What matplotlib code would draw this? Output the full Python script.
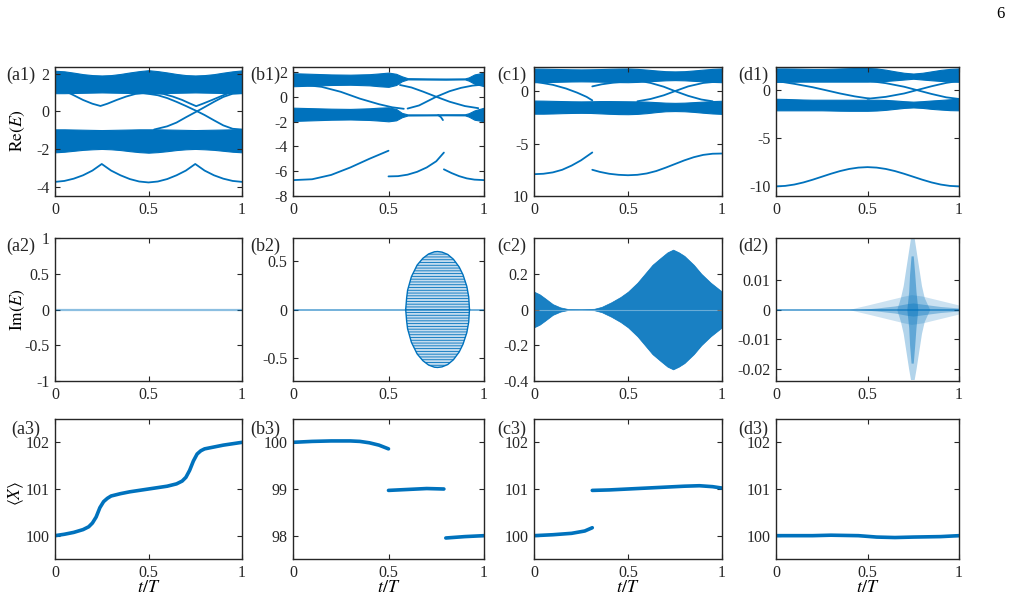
import numpy as np
import matplotlib.pyplot as plt

plt.rcParams['font.family'] = ['Liberation Serif', 'DejaVu Serif']
plt.rcParams['mathtext.fontset'] = 'stix'
plt.rcParams['axes.unicode_minus'] = False
plt.rcParams['hatch.linewidth'] = 0.6

BLUE = '#0072BD'
W, H = 1009, 607

# ---------------- data ----------------
t21 = np.linspace(0, 1, 21)

# (a1)
a1_up_top = [2.15, 2.12, 2.05, 1.97, 1.92, 1.90, 1.92, 1.98, 2.06, 2.13, 2.18,
             2.13, 2.06, 1.98, 1.92, 1.90, 1.92, 1.97, 2.05, 2.12, 2.17]
a1_up_bot = [0.96, 0.96, 0.97, 0.98, 0.99, 1.00, 0.99, 0.98, 0.97, 0.96, 0.96,
             0.96, 0.97, 0.98, 0.99, 1.00, 0.99, 0.98, 0.97, 0.96, 0.96]
a1_lo_top = [-0.96, -0.96, -0.97, -0.98, -0.99, -1.00, -0.99, -0.98, -0.97, -0.96, -0.96,
             -0.96, -0.97, -0.98, -0.99, -1.00, -0.99, -0.98, -0.97, -0.96, -0.96]
a1_lo_bot = [-2.18, -2.15, -2.10, -2.05, -2.02, -2.00, -2.02, -2.06, -2.12, -2.17, -2.20,
             -2.17, -2.12, -2.06, -2.02, -2.00, -2.02, -2.05, -2.10, -2.15, -2.18]
a1_low = [-3.75, -3.70, -3.58, -3.40, -3.15, -2.80, -3.15, -3.40, -3.60, -3.73, -3.78,
          -3.73, -3.60, -3.40, -3.15, -2.80, -3.15, -3.40, -3.58, -3.70, -3.75]
a1_va_t = [0.075, 0.10, 0.15, 0.20, 0.243, 0.28, 0.33, 0.38, 0.43, 0.47]
a1_va_y = [0.97, 0.85, 0.60, 0.40, 0.28, 0.40, 0.60, 0.78, 0.92, 0.97]
a1_vb_t = [0.53, 0.58, 0.63, 0.68, 0.72, 0.755, 0.79, 0.84, 0.90, 0.93]
a1_vb_y = [0.97, 0.92, 0.78, 0.60, 0.42, 0.27, 0.40, 0.60, 0.85, 0.97]
a1_dn_t = [0.47, 0.55, 0.60, 0.65, 0.70, 0.76, 0.80, 0.85, 0.90, 0.95, 1.0]
a1_dn_y = [0.97, 0.85, 0.70, 0.50, 0.28, 0.0, -0.20, -0.48, -0.75, -0.93, -0.97]
a1_upl_t = [0.53, 0.60, 0.65, 0.70, 0.76, 0.80, 0.85, 0.90, 0.95, 1.0]
a1_upl_y = [-0.97, -0.80, -0.60, -0.32, 0.0, 0.22, 0.50, 0.76, 0.93, 0.97]

# (b1)
b1_bt = [0, 0.1, 0.2, 0.3, 0.4, 0.45, 0.5, 0.54, 0.57, 0.6, 0.7, 0.8, 0.9, 0.92, 0.95, 1.0]
b1_up_top = [1.90, 1.85, 1.80, 1.78, 1.82, 1.88, 1.95, 1.85, 1.65, 1.50, 1.48, 1.47, 1.48, 1.56, 1.80, 1.95]
b1_up_bot = [0.85, 0.90, 0.95, 0.97, 0.92, 0.85, 0.80, 0.95, 1.25, 1.40, 1.39, 1.38, 1.40, 1.30, 1.05, 0.85]
b1_lo_top = [-0.88, -0.92, -0.96, -0.98, -0.93, -0.88, -0.85, -0.98, -1.30, -1.42, -1.42, -1.41, -1.41, -1.33, -1.10, -0.88]
b1_lo_bot = [-1.95, -1.90, -1.85, -1.83, -1.87, -1.92, -1.98, -1.90, -1.65, -1.51, -1.50, -1.49, -1.50, -1.60, -1.85, -1.98]
b1_hook_t = [0.76, 0.775, 0.785]
b1_hook_y = [-1.47, -1.65, -1.88]
b1_dn1_t = [0.08, 0.15, 0.25, 0.35, 0.45, 0.52, 0.58]
b1_dn1_y = [0.92, 0.80, 0.40, -0.15, -0.60, -0.85, -0.97]
b1_dn2_t = [0.56, 0.62, 0.68, 0.75, 0.82, 0.90, 0.97]
b1_dn2_y = [0.95, 0.75, 0.42, 0.0, -0.40, -0.75, -0.92]
b1_up2_t = [0.60, 0.66, 0.75, 0.82, 0.88, 0.94, 0.99]
b1_up2_y = [-0.95, -0.70, 0.0, 0.45, 0.72, 0.90, 0.97]
b1_s1_t = [0, 0.1, 0.2, 0.3, 0.4, 0.5]
b1_s1_y = [-6.72, -6.65, -6.30, -5.70, -5.00, -4.35]
b1_s2_t = [0.5, 0.55, 0.6, 0.65, 0.7, 0.75, 0.79]
b1_s2_y = [-6.42, -6.40, -6.28, -6.05, -5.70, -5.20, -4.50]
b1_s3_t = [0.79, 0.83, 0.87, 0.91, 0.95, 1.0]
b1_s3_y = [-5.85, -6.15, -6.40, -6.58, -6.68, -6.72]

# (c1)
c1_up_top = [2.15, 2.14, 2.12, 2.10, 2.08, 2.07, 2.08, 2.10, 2.13, 2.15, 2.16,
             2.12, 2.05, 1.97, 1.90, 1.88, 1.90, 1.97, 2.05, 2.12, 2.16]
c1_up_bot = [0.85, 0.86, 0.88, 0.90, 0.92, 0.93, 0.92, 0.90, 0.88, 0.86, 0.85,
             0.88, 0.93, 0.98, 1.03, 1.05, 1.03, 0.98, 0.93, 0.88, 0.85]
c1_lo_top = [-0.90, -0.91, -0.93, -0.95, -0.97, -0.98, -0.97, -0.95, -0.95, -0.96, -0.97,
             -0.98, -1.00, -1.05, -1.10, -1.12, -1.10, -1.05, -1.00, -0.95, -0.92]
c1_lo_bot = [-2.15, -2.15, -2.13, -2.10, -2.08, -2.07, -2.08, -2.12, -2.16, -2.19, -2.20,
             -2.17, -2.10, -2.00, -1.92, -1.90, -1.92, -1.98, -2.06, -2.13, -2.17]
c1_dn1_t = [0.02, 0.10, 0.17, 0.23, 0.28, 0.31]
c1_dn1_y = [0.85, 0.60, 0.25, -0.15, -0.55, -0.88]
c1_up1_t = [0.31, 0.36, 0.42, 0.48, 0.52]
c1_up1_y = [0.45, 0.65, 0.80, 0.90, 0.95]
c1_up2_t = [0.55, 0.62, 0.69, 0.75, 0.82, 0.90, 1.0]
c1_up2_y = [-0.97, -0.75, -0.40, 0.0, 0.45, 0.78, 0.95]
c1_dn2_t = [0.57, 0.62, 0.69, 0.75, 0.82, 0.89, 0.95]
c1_dn2_y = [0.95, 0.78, 0.42, 0.0, -0.45, -0.80, -0.97]
c1_s1_t = [0, 0.05, 0.1, 0.15, 0.2, 0.25, 0.31]
c1_s1_y = [-7.92, -7.88, -7.75, -7.50, -7.10, -6.60, -5.85]
c1_s2_t = [0.31, 0.35, 0.4, 0.45, 0.5, 0.55, 0.6, 0.65, 0.7, 0.75, 0.8, 0.85, 0.9, 0.95, 1.0]
c1_s2_y = [-7.50, -7.70, -7.88, -7.98, -8.02, -7.98, -7.85, -7.62, -7.30, -6.95,
           -6.60, -6.30, -6.08, -5.97, -5.95]

# (d1)
d1_up_top = [2.25, 2.25, 2.24, 2.22, 2.20, 2.20, 2.22, 2.25, 2.28, 2.30, 2.30,
             2.25, 2.12, 1.95, 1.80, 1.72, 1.80, 1.95, 2.10, 2.20, 2.25]
d1_up_bot = [0.85, 0.86, 0.87, 0.88, 0.88, 0.88, 0.88, 0.88, 0.88, 0.88, 0.88,
             0.90, 0.95, 1.02, 1.10, 1.18, 1.10, 1.02, 0.95, 0.90, 0.86]
d1_lo_top = [-0.90, -0.92, -0.95, -0.98, -1.00, -1.00, -1.00, -1.00, -1.00, -1.00, -1.00,
             -1.00, -1.02, -1.08, -1.15, -1.20, -1.15, -1.08, -1.02, -0.95, -0.90]
d1_lo_bot = [-2.10, -2.10, -2.10, -2.10, -2.10, -2.10, -2.12, -2.14, -2.15, -2.15, -2.15,
             -2.12, -2.05, -1.95, -1.85, -1.80, -1.85, -1.95, -2.02, -2.08, -2.10]
d1_dn1_t = [0.03, 0.10, 0.20, 0.27, 0.35, 0.43, 0.51]
d1_dn1_y = [0.86, 0.65, 0.30, 0.0, -0.35, -0.65, -0.88]
d1_up2_t = [0.50, 0.60, 0.70, 0.77, 0.85, 0.93, 1.0]
d1_up2_y = [-0.90, -0.70, -0.35, 0.0, 0.40, 0.75, 0.95]
d1_dn2_t = [0.52, 0.60, 0.70, 0.77, 0.85, 0.93, 1.0]
d1_dn2_y = [0.92, 0.72, 0.35, 0.0, -0.40, -0.75, -0.92]
d1_low = [-10.0, -9.95, -9.81, -9.59, -9.31, -9.0, -8.69, -8.41, -8.19, -8.05, -8.0,
          -8.05, -8.19, -8.41, -8.69, -9.0, -9.31, -9.59, -9.81, -9.95, -10.0]

# (b2) lens of complex eigenvalues
b2_t = [0.59, 0.595, 0.6, 0.62, 0.65, 0.68, 0.71, 0.74, 0.757, 0.78, 0.81, 0.84, 0.87, 0.89, 0.91, 0.92, 0.924]
b2_top = [0, 0.12, 0.20, 0.34, 0.46, 0.53, 0.575, 0.597, 0.60, 0.594, 0.57, 0.52, 0.44, 0.36, 0.24, 0.13, 0]
b2_bot = [0, -0.12, -0.20, -0.34, -0.46, -0.53, -0.575, -0.597, -0.60, -0.594, -0.57, -0.52, -0.44, -0.36, -0.24, -0.13, 0]

# (c2) envelope of the imaginary parts
c2_t = [0, 0.03, 0.06, 0.1, 0.14, 0.18, 0.25, 0.32, 0.36, 0.41, 0.46, 0.5, 0.55, 0.59,
        0.63, 0.675, 0.71, 0.74, 0.77, 0.8, 0.85, 0.89, 0.94, 1.0]
c2_top = [0.10, 0.085, 0.062, 0.03, 0.012, 0.003, 0.002, 0.004, 0.015, 0.04, 0.07, 0.10,
          0.15, 0.20, 0.25, 0.29, 0.32, 0.335, 0.32, 0.30, 0.25, 0.20, 0.15, 0.10]
c2_bot = [-0.10, -0.085, -0.062, -0.03, -0.012, -0.003, -0.002, -0.004, -0.015, -0.04, -0.07, -0.10,
          -0.15, -0.20, -0.25, -0.29, -0.32, -0.335, -0.32, -0.30, -0.25, -0.20, -0.15, -0.10]

# (d2) scattered imaginary parts: horizontal smear and vertical spike
d2_h_t = [0.40, 0.45, 0.5, 0.6, 0.7, 0.74, 0.8, 0.9, 1.0]
d2_h_top = [0, 0.0008, 0.0015, 0.0030, 0.0045, 0.005, 0.0045, 0.003, 0.0015]
d2_h_bot = [0, -0.0008, -0.0015, -0.0030, -0.0045, -0.005, -0.0045, -0.003, -0.0015]
d2_c_t = [0.45, 0.55, 0.65, 0.72, 0.75, 0.8, 0.9, 1.0]
d2_c_top = [0, 0.0005, 0.0012, 0.002, 0.0022, 0.0018, 0.001, 0.0005]
d2_c_bot = [0, -0.0005, -0.0012, -0.002, -0.0022, -0.0018, -0.001, -0.0005]
d2_v_y = [-0.0235, -0.020, -0.016, -0.012, -0.008, -0.004, 0, 0.004, 0.008, 0.012, 0.016, 0.020, 0.024]
d2_v_left = [0.735, 0.725, 0.715, 0.705, 0.695, 0.68, 0.66, 0.68, 0.695, 0.705, 0.715, 0.725, 0.735]
d2_v_right = [0.755, 0.765, 0.775, 0.785, 0.795, 0.81, 0.84, 0.81, 0.795, 0.785, 0.775, 0.765, 0.755]
d2_k_y = [-0.018, -0.012, -0.006, 0, 0.006, 0.012, 0.018]
d2_k_left = [0.738, 0.73, 0.725, 0.715, 0.725, 0.73, 0.738]
d2_k_right = [0.75, 0.758, 0.765, 0.775, 0.765, 0.758, 0.75]

# row 3: <X>
a3_t = [0, 0.05, 0.1, 0.15, 0.18, 0.2, 0.22, 0.24, 0.26, 0.28, 0.3, 0.35, 0.4, 0.45, 0.5,
        0.55, 0.6, 0.65, 0.68, 0.7, 0.72, 0.74, 0.76, 0.78, 0.8, 0.85, 0.9, 0.95, 1.0]
a3_x = [100.0, 100.03, 100.07, 100.13, 100.19, 100.27, 100.40, 100.60, 100.73, 100.80, 100.85,
        100.90, 100.94, 100.97, 101.0, 101.03, 101.06, 101.11, 101.17, 101.25, 101.40, 101.60,
        101.75, 101.82, 101.86, 101.90, 101.94, 101.97, 102.0]
b3_s1_t = [0, 0.1, 0.2, 0.3, 0.35, 0.4, 0.45, 0.5]
b3_s1_x = [100.0, 100.02, 100.03, 100.03, 100.02, 99.99, 99.94, 99.86]
b3_s2_t = [0.5, 0.6, 0.7, 0.79]
b3_s2_x = [98.97, 98.99, 99.01, 99.0]
b3_s3_t = [0.8, 0.9, 1.0]
b3_s3_x = [97.95, 97.98, 98.0]
c3_s1_t = [0, 0.1, 0.2, 0.27, 0.31]
c3_s1_x = [100.0, 100.02, 100.05, 100.10, 100.17]
c3_s2_t = [0.31, 0.4, 0.5, 0.6, 0.7, 0.8, 0.88, 0.95, 1.0]
c3_s2_x = [100.97, 100.98, 101.0, 101.02, 101.04, 101.06, 101.07, 101.05, 101.02]
d3_t = [0, 0.2, 0.3, 0.45, 0.55, 0.65, 0.75, 0.9, 1.0]
d3_x = [100.0, 100.0, 100.01, 100.0, 99.97, 99.96, 99.97, 99.98, 100.0]

# ---------------- layout ----------------
fig = plt.figure(figsize=(W / 100, H / 100), dpi=100)
cols = [(55, 242), (293, 484), (534, 722), (776, 959)]
rows = [(67, 196), (238, 381), (419, 559)]


def make_ax(r, c):
    (l, rr), (t, b) = cols[c], rows[r]
    ax = fig.add_axes([l / W, 1 - b / H, (rr - l) / W, (b - t) / H])
    ax.set_xlim(0, 1)
    ax.set_xticks([0, 0.5, 1])
    ax.set_xticklabels(['0', '0.5', '1'])
    ax.tick_params(direction='in', top=True, right=True, length=3.5, width=0.8,
                   labelsize=11.5, colors='#262626', pad=4)
    for s in ax.spines.values():
        s.set_color('#262626')
        s.set_linewidth(1.0)
    return ax


def band(ax, t, top, bot):
    ax.fill_between(t, bot, top, color=BLUE, lw=0.8, edgecolor=BLUE)


def line(ax, t, y, lw=1.3, **kw):
    ax.plot(t, y, color=BLUE, lw=lw, solid_capstyle='round', **kw)


axs = [[make_ax(r, c) for c in range(4)] for r in range(3)]

# row 1: Re(E)
ax = axs[0][0]
band(ax, t21, a1_up_top, a1_up_bot)
band(ax, t21, a1_lo_top, a1_lo_bot)
line(ax, t21, a1_low)
line(ax, a1_va_t, a1_va_y)
line(ax, a1_vb_t, a1_vb_y)
line(ax, a1_dn_t, a1_dn_y)
line(ax, a1_upl_t, a1_upl_y)
ax.set_ylim(-4.5, 2.35)
ax.set_yticks([-4, -2, 0, 2])
ax.set_yticklabels(['-4', '-2', '0', '2'])

ax = axs[0][1]
band(ax, b1_bt, b1_up_top, b1_up_bot)
band(ax, b1_bt, b1_lo_top, b1_lo_bot)
line(ax, b1_hook_t, b1_hook_y)
for tt, yy in [(b1_dn1_t, b1_dn1_y), (b1_dn2_t, b1_dn2_y), (b1_up2_t, b1_up2_y),
               (b1_s1_t, b1_s1_y), (b1_s2_t, b1_s2_y), (b1_s3_t, b1_s3_y)]:
    line(ax, tt, yy)
ax.set_ylim(-8, 2.4)
ax.set_yticks([-8, -6, -4, -2, 0, 2])
ax.set_yticklabels(['-8', '-6', '-4', '-2', '0', '2'])

ax = axs[0][2]
band(ax, t21, c1_up_top, c1_up_bot)
band(ax, t21, c1_lo_top, c1_lo_bot)
for tt, yy in [(c1_dn1_t, c1_dn1_y), (c1_up1_t, c1_up1_y), (c1_up2_t, c1_up2_y),
               (c1_dn2_t, c1_dn2_y), (c1_s1_t, c1_s1_y), (c1_s2_t, c1_s2_y)]:
    line(ax, tt, yy)
ax.set_ylim(-10, 2.3)
ax.set_yticks([-10, -5, 0])
ax.set_yticklabels(['10', '-5', '0'])

ax = axs[0][3]
band(ax, t21, d1_up_top, d1_up_bot)
band(ax, t21, d1_lo_top, d1_lo_bot)
for tt, yy in [(d1_dn1_t, d1_dn1_y), (d1_up2_t, d1_up2_y), (d1_dn2_t, d1_dn2_y),
               (t21, d1_low)]:
    line(ax, tt, yy)
ax.set_ylim(-11, 2.4)
ax.set_yticks([-10, -5, 0])
ax.set_yticklabels(['-10', '-5', '0'])

# row 2: Im(E)
ax = axs[1][0]
ax.plot([0, 1], [0, 0], color=BLUE, lw=1.6, alpha=0.45)
ax.set_ylim(-1, 1)
ax.set_yticks([-1, -0.5, 0, 0.5, 1])
ax.set_yticklabels(['-1', '-0.5', '0', '0.5', '1'])

ax = axs[1][1]
ax.plot([0, 1], [0, 0], color=BLUE, lw=1.4, alpha=0.55)
ax.fill_between(b2_t, b2_bot, b2_top, facecolor='#c4dcef', edgecolor=BLUE,
                hatch='------', lw=0)
ax.plot(b2_t, b2_top, color=BLUE, lw=1.0)
ax.plot(b2_t, b2_bot, color=BLUE, lw=1.0)
ax.set_ylim(-0.74, 0.74)
ax.set_yticks([-0.5, 0, 0.5])
ax.set_yticklabels(['-0.5', '0', '0.5'])

ax = axs[1][2]
ax.fill_between(c2_t, c2_bot, c2_top, color=BLUE, alpha=0.9, lw=0.5)
ax.plot([0, 1], [0, 0], color='white', lw=0.8, alpha=0.35)
ax.set_ylim(-0.4, 0.4)
ax.set_yticks([-0.4, -0.2, 0, 0.2])
ax.set_yticklabels(['-0.4', '-0.2', '0', '0.2'])

ax = axs[1][3]
ax.plot([0, 1], [0, 0], color=BLUE, lw=1.4, alpha=0.6)
ax.fill_between(d2_h_t, d2_h_bot, d2_h_top, color=BLUE, alpha=0.2, lw=0)
ax.fill_between(d2_c_t, d2_c_bot, d2_c_top, color=BLUE, alpha=0.35, lw=0)
ax.fill_betweenx(d2_v_y, d2_v_left, d2_v_right, color=BLUE, alpha=0.3, lw=0)
ax.fill_betweenx(d2_k_y, d2_k_left, d2_k_right, color=BLUE, alpha=0.45, lw=0)
ax.set_ylim(-0.024, 0.024)
ax.set_yticks([-0.02, -0.01, 0, 0.01])
ax.set_yticklabels(['-0.02', '-0.01', '0', '0.01'])

# row 3: <X>
ax = axs[2][0]
line(ax, a3_t, a3_x, lw=2.6)
ax = axs[2][1]
for tt, xx in [(b3_s1_t, b3_s1_x), (b3_s2_t, b3_s2_x), (b3_s3_t, b3_s3_x)]:
    line(ax, tt, xx, lw=2.6)
ax = axs[2][2]
line(ax, c3_s1_t, c3_s1_x, lw=2.6)
line(ax, c3_s2_t, c3_s2_x, lw=2.6)
ax = axs[2][3]
line(ax, d3_t, d3_x, lw=2.6)
for c in range(4):
    ax = axs[2][c]
    if c == 1:
        ax.set_ylim(97.5, 100.5)
        ax.set_yticks([98, 99, 100])
        ax.set_yticklabels(['98', '99', '100'])
    else:
        ax.set_ylim(99.5, 102.5)
        ax.set_yticks([100, 101, 102])
        ax.set_yticklabels(['100', '101', '102'])

# labels
def ftext(x, y, s, **kw):
    fig.text(x / W, 1 - y / H, s, **kw)

plabels = [['(a1)', '(b1)', '(c1)', '(d1)'],
           ['(a2)', '(b2)', '(c2)', '(d2)'],
           ['(a3)', '(b3)', '(c3)', '(d3)']]
lab_x = [6, 250, 497, 738]
lab_y = [75, 246, 429]
for r in range(3):
    for c in range(4):
        x = lab_x[c] + (5 if (r == 2 and c == 0) else 0)
        ftext(x, lab_y[r], plabels[r][c], fontsize=13, ha='left', va='center', color='#262626')

ftext(18, 131, r'$\mathrm{Re}(E)$', fontsize=12.5, rotation=90, ha='center', va='center')
ftext(18, 310, r'$\mathrm{Im}(E)$', fontsize=12.5, rotation=90, ha='center', va='center')
ftext(16, 493, r'$\langle X\rangle$', fontsize=12.5, rotation=90, ha='center', va='center')
for c in range(4):
    l, rr = cols[c]
    ftext((l + rr) / 2, 588, r'$t/T$', fontsize=13, ha='center', va='center')

ftext(1000, 14, '6', fontsize=12, ha='center', va='center')

fig.savefig('out.png', dpi=100)
